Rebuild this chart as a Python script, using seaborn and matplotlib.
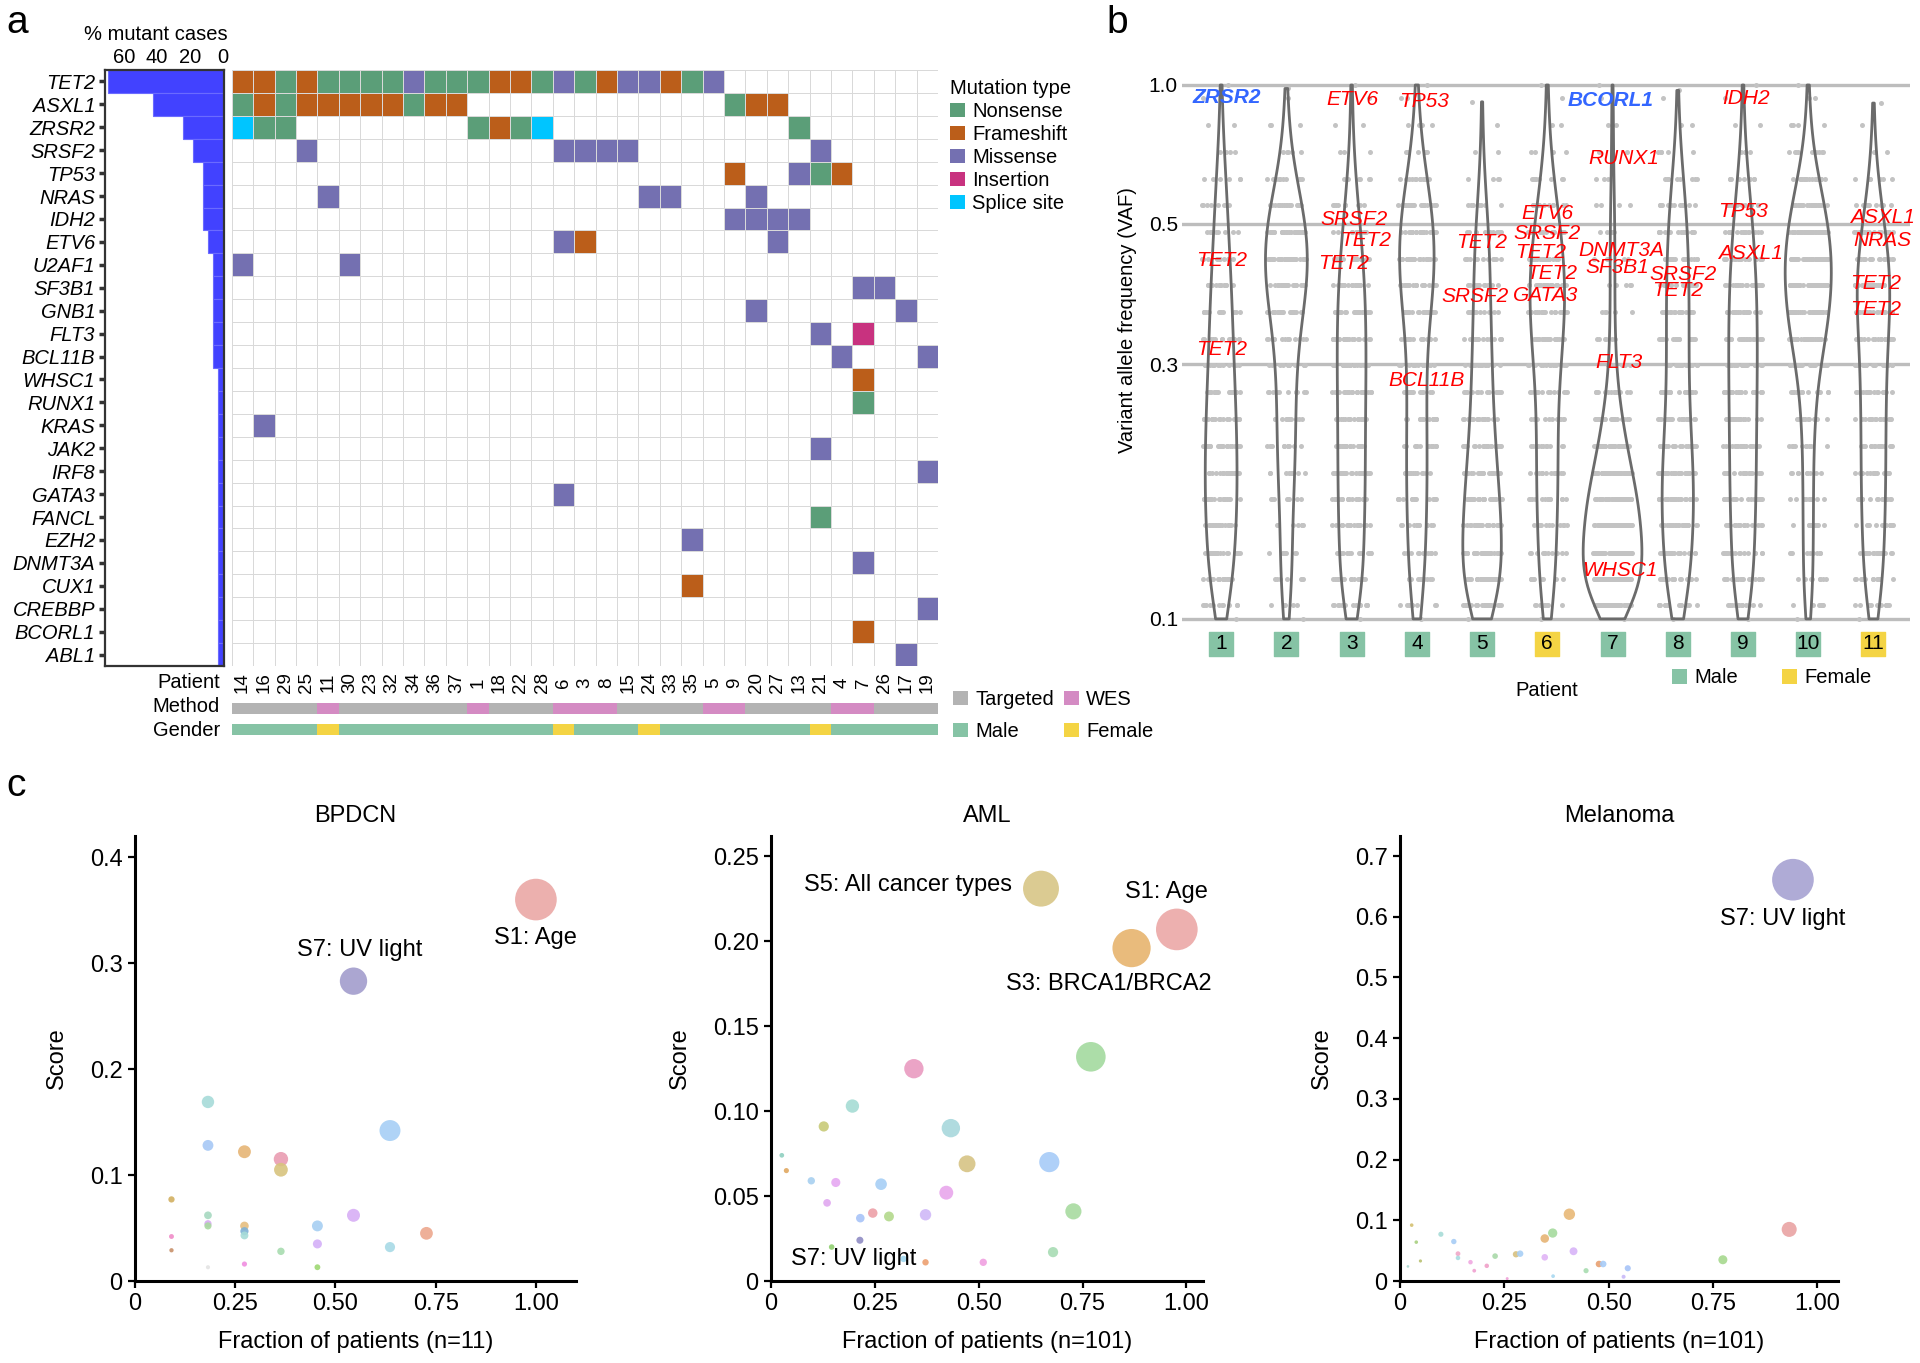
import numpy as np
import pandas as pd
import matplotlib
matplotlib.use('Agg')
import matplotlib.pyplot as plt
import matplotlib.ticker as mticker
import matplotlib.transforms as mtrans
from matplotlib.colors import ListedColormap
from matplotlib.patches import Patch
import seaborn as sb

plt.rcParams['font.family'] = ['Liberation Sans', 'DejaVu Sans']

W, H = 1920, 1363

# ---------------- panel a: oncoprint ----------------
genes = ['TET2', 'ASXL1', 'ZRSR2', 'SRSF2', 'TP53', 'NRAS', 'IDH2', 'ETV6', 'U2AF1', 'SF3B1',
         'GNB1', 'FLT3', 'BCL11B', 'WHSC1', 'RUNX1', 'KRAS', 'JAK2', 'IRF8', 'GATA3', 'FANCL',
         'EZH2', 'DNMT3A', 'CUX1', 'CREBBP', 'BCORL1', 'ABL1']
patients = ['14', '16', '29', '25', '11', '30', '23', '32', '34', '36', '37', '1', '18', '22',
            '28', '6', '3', '8', '15', '24', '33', '35', '5', '9', '20', '27', '13', '21', '4',
            '7', '26', '17', '19']
# one character per patient: N nonsense, F frameshift, M missense, I insertion, S splice site
mutations = [
    'FFNFNNNNMN' 'NNFFNMNFMM' 'FNM.......' '...',  # TET2
    'NFNFFFFFNF' 'F.........' '...NFF....' '...',  # ASXL1
    'SNN.......' '.NFNS.....' '......N...' '...',  # ZRSR2
    '...M......' '.....MMMM.' '.......M..' '...',  # SRSF2
    '..........' '..........' '...F..MNF.' '...',  # TP53
    '....M.....' '.........M' 'M...M.....' '...',  # NRAS
    '..........' '..........' '...MMMM...' '...',  # IDH2
    '..........' '.....MF...' '.....M....' '...',  # ETV6
    'M....M....' '..........' '..........' '...',  # U2AF1
    '..........' '..........' '.........M' 'M..',  # SF3B1
    '..........' '..........' '....M.....' '.M.',  # GNB1
    '..........' '..........' '.......M.I' '...',  # FLT3
    '..........' '..........' '........M.' '..M',  # BCL11B
    '..........' '..........' '.........F' '...',  # WHSC1
    '..........' '..........' '.........N' '...',  # RUNX1
    '.M........' '..........' '..........' '...',  # KRAS
    '..........' '..........' '.......M..' '...',  # JAK2
    '..........' '..........' '..........' '..M',  # IRF8
    '..........' '.....M....' '..........' '...',  # GATA3
    '..........' '..........' '.......N..' '...',  # FANCL
    '..........' '..........' '.M........' '...',  # EZH2
    '..........' '..........' '.........M' '...',  # DNMT3A
    '..........' '..........' '.F........' '...',  # CUX1
    '..........' '..........' '..........' '..M',  # CREBBP
    '..........' '..........' '.........F' '...',  # BCORL1
    '..........' '..........' '..........' '.M.',  # ABL1
]
method = 'TTTTWTTTTT' 'TWTTTWWWTT' 'TTWWTTTTWW' 'TTT'   # T targeted, W WES
gender = 'MMMMFMMMMM' 'MMMMMFMMMF' 'MMMMMMMFMM' 'MMM'

mut_types = ['Nonsense', 'Frameshift', 'Missense', 'Insertion', 'Splice site']
mut_colors = ['#5b9e78', '#bb5e1a', '#7470b1', '#c8327f', '#00c5ff']

# ---------------- panel b: VAF per patient ----------------
b_patients = ['1', '2', '3', '4', '5', '6', '7', '8', '9', '10', '11']
b_sex = ['M', 'M', 'M', 'M', 'M', 'F', 'M', 'M', 'M', 'M', 'F']
vaf_bins = [0.106, 0.119, 0.133, 0.150, 0.168, 0.188, 0.211, 0.237, 0.266, 0.299,
            0.335, 0.376, 0.422, 0.473, 0.531, 0.596, 0.668, 0.750, 0.841, 0.944]
# number of variants per VAF bin, one row per patient
dot_counts = [
    [11, 15, 18, 19, 20, 20, 20, 19, 18, 16, 15, 14, 13, 11, 9, 8, 6, 4, 2, 1],
    [5, 7, 7, 7, 8, 10, 11, 11, 11, 12, 14, 20, 25, 28, 26, 19, 11, 5, 3, 1],
    [14, 17, 18, 19, 19, 20, 20, 20, 21, 21, 21, 21, 19, 17, 13, 10, 6, 3, 2, 1],
    [8, 11, 12, 13, 14, 14, 14, 14, 13, 13, 14, 19, 24, 27, 25, 21, 14, 7, 4, 2],
    [25, 30, 31, 29, 26, 23, 20, 18, 16, 15, 14, 13, 12, 12, 10, 7, 4, 2, 1, 0],
    [8, 10, 11, 12, 13, 13, 13, 13, 14, 16, 20, 22, 23, 21, 17, 12, 8, 4, 2, 1],
    [47, 63, 67, 62, 53, 42, 31, 21, 13, 8, 6, 5, 5, 5, 5, 4, 3, 2, 2, 1],
    [15, 20, 23, 25, 26, 25, 22, 20, 18, 17, 18, 18, 18, 17, 16, 13, 9, 5, 2, 1],
    [12, 16, 17, 18, 19, 19, 20, 20, 21, 21, 21, 21, 20, 18, 15, 12, 8, 4, 2, 1],
    [7, 8, 9, 9, 9, 9, 10, 12, 15, 21, 31, 38, 42, 43, 38, 29, 18, 9, 4, 2],
    [10, 13, 15, 16, 16, 17, 17, 17, 18, 18, 20, 23, 25, 22, 17, 11, 6, 3, 1, 0],
]
vaf_min = [0.1, 0.1, 0.1, 0.1, 0.1, 0.1, 0.1, 0.1, 0.1, 0.1, 0.1]
vaf_max = [1.0, 0.985, 1.0, 1.0, 0.93, 1.0, 1.0, 0.977, 1.0, 1.0, 0.925]

label_genes = ['ZRSR2', 'TET2', 'TET2', 'ETV6', 'TP53', 'SRSF2', 'TET2', 'TET2', 'BCL11B',
               'TET2', 'SRSF2', 'ETV6', 'SRSF2', 'TET2', 'TET2', 'GATA3', 'BCORL1', 'RUNX1',
               'DNMT3A', 'SF3B1', 'FLT3', 'WHSC1', 'SRSF2', 'TET2', 'IDH2', 'TP53', 'ASXL1',
               'ASXL1', 'NRAS', 'TET2', 'TET2']
label_patient = [1.09, 1.01, 1.01, 3.01, 4.11, 3.04, 3.22, 2.88, 4.15,
                 5.0, 4.89, 6.0, 6.0, 5.9, 6.07, 5.97, 6.97, 7.17,
                 7.13, 7.07, 7.1, 7.12, 8.08, 8.0, 9.05, 9.0, 9.11,
                 11.14, 11.14, 11.04, 11.04]
label_vaf = [0.948, 0.469, 0.320, 0.940, 0.933, 0.561, 0.512, 0.464, 0.280,
             0.506, 0.402, 0.575, 0.526, 0.485, 0.443, 0.404, 0.937, 0.729,
             0.489, 0.455, 0.302, 0.123, 0.442, 0.412, 0.944, 0.579, 0.483,
             0.564, 0.512, 0.424, 0.379]
blue_genes = ['ZRSR2', 'BCORL1']

# ---------------- panel c: signature scores ----------------
bpdcn_frac = [1.000, 0.545, 0.182, 0.636, 0.182, 0.273, 0.364, 0.364, 0.091, 0.182,
              0.182, 0.182, 0.545, 0.455, 0.273, 0.273, 0.273, 0.727, 0.455, 0.636,
              0.091, 0.091, 0.364, 0.273, 0.455, 0.182]
bpdcn_score = [0.360, 0.283, 0.169, 0.142, 0.128, 0.122, 0.115, 0.105, 0.077, 0.062,
               0.054, 0.052, 0.062, 0.052, 0.052, 0.047, 0.043, 0.045, 0.035, 0.032,
               0.042, 0.029, 0.028, 0.016, 0.013, 0.013]
bpdcn_colors = ['#eaa8a5', '#a29dcc', '#a6dbd9', '#a6cff5', '#a6c8f5', '#e6b576', '#e99cb2',
                '#d8c47e', '#d2b060', '#a6d9c0', '#d7aaf2', '#a9d9a0', '#d7aef5', '#a6cff2',
                '#e6be7e', '#7fb2d6', '#a6dcd8', '#eda88e', '#d4b0f8', '#a8dae6', '#f08cc8',
                '#c8906a', '#a8dcb0', '#f08ee0', '#9ed872', '#e4e4e4']
bpdcn_notes = [('S7: UV light', 0.561, 0.312), ('S1: Age', 0.998, 0.324)]

aml_frac = [0.650, 0.977, 0.868, 0.770, 0.344, 0.196, 0.127, 0.433, 0.670, 0.472,
            0.026, 0.037, 0.097, 0.156, 0.265, 0.422, 0.135, 0.245, 0.215, 0.284,
            0.372, 0.728, 0.214, 0.679, 0.146, 0.372, 0.511, 0.319]
aml_score = [0.231, 0.207, 0.196, 0.132, 0.125, 0.103, 0.091, 0.090, 0.070, 0.069,
             0.074, 0.065, 0.059, 0.058, 0.057, 0.052, 0.046, 0.040, 0.037, 0.038,
             0.039, 0.041, 0.024, 0.017, 0.020, 0.011, 0.011, 0.013]
aml_colors = ['#d8c686', '#eba8a6', '#e7b46e', '#a3da9f', '#e99ac0', '#a5dcd4', '#c8ca78',
              '#a8d8dc', '#a6cbf8', '#d6c384', '#8fd0c0', '#e0a860', '#a8d0f0', '#e6a8f2',
              '#a6cff5', '#e8a6ec', '#e0a8f0', '#eda0a8', '#a8c4f8', '#b3d98c', '#d0b8f8',
              '#a8dba0', '#8f8cc4', '#a8dcb4', '#90d070', '#eda070', '#f0a0e0', '#a0d8f0']
aml_notes = [('S5: All cancer types', 0.330, 0.233), ('S1: Age', 0.951, 0.229),
             ('S3: BRCA1/BRCA2', 0.813, 0.175), ('S7: UV light', 0.198, 0.013)]

mel_frac = [0.942, 0.933, 0.406, 0.366, 0.347, 0.774, 0.416, 0.347, 0.278, 0.288,
            0.228, 0.098, 0.129, 0.139, 0.139, 0.169, 0.208, 0.178, 0.477, 0.487,
            0.546, 0.446, 0.028, 0.039, 0.049, 0.367, 0.536, 0.257, 0.019]
mel_score = [0.661, 0.085, 0.110, 0.079, 0.070, 0.035, 0.049, 0.039, 0.044, 0.045,
             0.041, 0.077, 0.065, 0.045, 0.038, 0.031, 0.025, 0.017, 0.028, 0.028,
             0.021, 0.017, 0.092, 0.064, 0.033, 0.008, 0.007, 0.004, 0.024]
mel_colors = ['#a6a2d2', '#e9a3a3', '#e8b877', '#a5db9e', '#e6b474', '#a6d98e', '#d8b4f8',
              '#e0b4f6', '#d6c080', '#a8cff5', '#a9d9a9', '#a8dcd8', '#a6ccf5', '#f0a8c8',
              '#a8dce0', '#f0a8e0', '#f0a0c8', '#f0a0d0', '#e8a070', '#a6cbf8', '#a6c4f8',
              '#a8dcb0', '#d4c070', '#a8d080', '#b8c070', '#a8d8f0', '#c8b8f8', '#f0a0d8',
              '#a8d8d0']
mel_notes = [('S7: UV light', 0.918, 0.596)]


fig = plt.figure(figsize=(W / 100, H / 100), dpi=100)


def box(x0, y0, x1, y1):
    # pixel box (top-left origin) -> figure fraction rect
    return [x0 / W, 1 - y1 / H, (x1 - x0) / W, (y1 - y0) / H]


FS = 14.5

# ---- a: % mutant cases bars
pct = [100 * sum(c != '.' for c in row) / len(patients) for row in mutations]
ax_bar = fig.add_axes(box(105, 70, 224, 666))
sb.barplot(x=pct, y=genes, orient='h', color='#4242ff', saturation=1, width=1,
           edgecolor='#6b6bff', linewidth=0.8, ax=ax_bar)
ax_bar.set_xlim(71.5, -0.8)
ax_bar.xaxis.tick_top()
ax_bar.set_xticks([60, 40, 20, 0])
ax_bar.set_xticklabels(['60', '40', '20', '0'])
ax_bar.set_xlabel('')
ax_bar.set_ylabel('')
ax_bar.tick_params(axis='x', length=0, pad=2, labelsize=FS)
ax_bar.tick_params(axis='y', length=4, width=2.5, color='#333333', pad=3, labelsize=FS)
for lbl in ax_bar.get_yticklabels():
    lbl.set_style('italic')
for s in ax_bar.spines.values():
    s.set_color('#333333')
    s.set_linewidth(1.6)
fig.text(156 / W, 1 - 34 / H, '% mutant cases', ha='center', va='center', fontsize=FS)

# ---- a: mutation grid
codes = {'.': 0, 'N': 1, 'F': 2, 'M': 3, 'I': 4, 'S': 5}
grid = pd.DataFrame([[codes[c] for c in row] for row in mutations], index=genes, columns=patients)
ax_on = fig.add_axes(box(231.7, 70, 938, 666))
sb.heatmap(grid, ax=ax_on, cmap=ListedColormap(['white'] + mut_colors), vmin=-0.5, vmax=5.5,
           cbar=False, linewidths=0.6, linecolor='#d9d9d9', xticklabels=True, yticklabels=False)
ax_on.set_xlabel('')
ax_on.set_ylabel('')
ax_on.tick_params(axis='x', length=0, pad=12, labelsize=13.5)
for lbl in ax_on.get_xticklabels():
    lbl.set_rotation(90)
    lbl.set_va('center')

# ---- a: method / gender strips
ax_me = fig.add_axes(box(231.7, 703, 938, 714))
sb.heatmap(pd.DataFrame([[0 if c == 'T' else 1 for c in method]], columns=patients), ax=ax_me,
           cmap=ListedColormap(['#b3b3b3', '#d48bc3']), vmin=-0.5, vmax=1.5, cbar=False,
           xticklabels=False, yticklabels=False)
ax_ge = fig.add_axes(box(231.7, 724, 938, 735))
sb.heatmap(pd.DataFrame([[0 if c == 'M' else 1 for c in gender]], columns=patients), ax=ax_ge,
           cmap=ListedColormap(['#86c3a5', '#f4d444']), vmin=-0.5, vmax=1.5, cbar=False,
           xticklabels=False, yticklabels=False)
for txt, y in [('Patient', 682), ('Method', 707), ('Gender', 731)]:
    fig.text(220 / W, 1 - y / H, txt, ha='right', va='center', fontsize=FS)

fig.legend([Patch(facecolor=c, edgecolor='none') for c in mut_colors], mut_types,
           title='Mutation type', loc='upper left', bbox_to_anchor=(950 / W, 1 - 79 / H),
           frameon=False, fontsize=FS, title_fontsize=FS, alignment='left',
           handlelength=0.75, handleheight=0.75, handletextpad=0.35, labelspacing=0.2,
           borderpad=0, borderaxespad=0)
fig.legend([Patch(facecolor=c, edgecolor='none') for c in ['#b3b3b3', '#86c3a5', '#d48bc3', '#f4d444']],
           ['Targeted', 'Male', 'WES', 'Female'], ncol=2, loc='upper left',
           bbox_to_anchor=(953 / W, 1 - 690 / H), frameon=False, fontsize=FS,
           handlelength=0.75, handleheight=0.75, handletextpad=0.35, columnspacing=0.5,
           labelspacing=0.65, borderpad=0, borderaxespad=0)

# ---- b: VAF violins
rows = []
for p, counts, lo, hi in zip(b_patients, dot_counts, vaf_min, vaf_max):
    vals = list(np.repeat(vaf_bins, counts)) + [lo, hi]
    rows += [(p, v) for v in vals]
vaf_df = pd.DataFrame(rows, columns=['patient', 'vaf'])

ax_b = fig.add_axes(box(1182, 75, 1910, 625))
np.random.seed(3)
sb.stripplot(data=vaf_df, x='patient', y='vaf', order=b_patients, color='#c3c3c3', size=3.6,
             jitter=0.3, log_scale=True, ax=ax_b, zorder=1)
sb.violinplot(data=vaf_df, x='patient', y='vaf', order=b_patients, cut=0, inner=None, fill=False,
              color='#6b6b6b', linewidth=2.0, width=0.9, bw_adjust=0.9, log_scale=True, ax=ax_b)
ax_b.set_ylim(0.0974, 1.044)
ax_b.set_xlim(-0.6, 10.56)
# the source's "0.5" gridline sits at 0.55 on its log axis
ax_b.yaxis.set_major_locator(mticker.FixedLocator([0.1, 0.3, 0.55, 1.0]))
ax_b.yaxis.set_major_formatter(mticker.FixedFormatter(['0.1', '0.3', '0.5', '1.0']))
ax_b.yaxis.set_minor_locator(mticker.NullLocator())
ax_b.grid(axis='y', color='#bdbdbd', lw=2.4)
ax_b.set_axisbelow(True)
for s in ax_b.spines.values():
    s.set_visible(False)
ax_b.tick_params(axis='both', which='both', length=0)
ax_b.tick_params(axis='y', labelsize=15, pad=3)
ax_b.tick_params(axis='x', labelbottom=False)
ax_b.set_xlabel('')
ax_b.set_ylabel('Variant allele frequency (VAF)', fontsize=FS)
ax_b.yaxis.set_label_coords(-0.062, 0.555)

sex_colors = {'M': '#86c3a5', 'F': '#f4d444'}
tb = mtrans.blended_transform_factory(ax_b.transData, ax_b.transAxes)
ax_b.scatter(range(len(b_patients)), [-0.0345] * len(b_patients), marker='s', s=300,
             c=[sex_colors[s] for s in b_sex], transform=tb, clip_on=False, zorder=3)
for i, p in enumerate(b_patients):
    ax_b.text(i, -0.0345, p, transform=tb, ha='center', va='center', fontsize=15, zorder=4)

for g, p, v in zip(label_genes, label_patient, label_vaf):
    blue = g in blue_genes
    ax_b.text(p - 1, v, g, color='#3366ff' if blue else '#ff0000', fontsize=15, style='italic',
              weight='bold' if blue else 'normal', ha='center', va='center', zorder=5)

fig.text(1547 / W, 1 - 690 / H, 'Patient', ha='center', va='center', fontsize=FS)
fig.legend([Patch(facecolor=c, edgecolor='none') for c in ['#86c3a5', '#f4d444']], ['Male', 'Female'],
           ncol=2, loc='center left', bbox_to_anchor=(1672 / W, 1 - 678 / H), frameon=False,
           fontsize=FS, handlelength=0.75, handleheight=0.75, handletextpad=0.35,
           columnspacing=2.2, borderpad=0, borderaxespad=0)


# ---- c: signature bubble charts
def plot_signatures(ax, frac, score, colors, notes, title, n, ylim, yticks, ylabels, xmax):
    frac = np.asarray(frac)
    score = np.asarray(score)
    weight = frac * score
    sb.scatterplot(x=frac, y=score, hue=colors, palette={c: c for c in colors}, size=weight,
                   sizes=(3, 900), size_norm=(0, weight.max()), legend=False, alpha=0.9,
                   edgecolor='none', ax=ax, clip_on=False)
    for txt, x, y in notes:
        ax.text(x, y, txt, ha='center', va='center', fontsize=17)
    ax.set_xlim(0, xmax)
    ax.set_ylim(0, ylim)
    ax.set_xticks([0, 0.25, 0.5, 0.75, 1.0])
    ax.set_xticklabels(['0', '0.25', '0.50', '0.75', '1.00'])
    ax.set_yticks(yticks)
    ax.set_yticklabels(ylabels)
    ax.tick_params(direction='out', length=5, width=1.6, labelsize=17, pad=4)
    for side in ['top', 'right']:
        ax.spines[side].set_visible(False)
    for side in ['left', 'bottom']:
        ax.spines[side].set_linewidth(2.2)
        ax.spines[side].set_color('black')
    ax.set_title(title, fontsize=17, pad=10)
    ax.set_xlabel(f'Fraction of patients (n={n})', fontsize=17, labelpad=11)
    ax.set_ylabel('Score', fontsize=17, labelpad=16)


ax_c1 = fig.add_axes(box(135, 836, 576, 1281))
plot_signatures(ax_c1, bpdcn_frac, bpdcn_score, bpdcn_colors, bpdcn_notes, 'BPDCN', 11, 0.42,
                [0, 0.1, 0.2, 0.3, 0.4], ['0', '0.1', '0.2', '0.3', '0.4'], 1.10)
ax_c2 = fig.add_axes(box(771, 836, 1203, 1281))
plot_signatures(ax_c2, aml_frac, aml_score, aml_colors, aml_notes, 'AML', 101, 0.262,
                [0, 0.05, 0.10, 0.15, 0.20, 0.25], ['0', '0.05', '0.10', '0.15', '0.20', '0.25'], 1.04)
ax_c3 = fig.add_axes(box(1400, 836, 1838, 1281))
plot_signatures(ax_c3, mel_frac, mel_score, mel_colors, mel_notes, 'Melanoma', 101, 0.733,
                [0, 0.1, 0.2, 0.3, 0.4, 0.5, 0.6, 0.7],
                ['0', '0.1', '0.2', '0.3', '0.4', '0.5', '0.6', '0.7'], 1.05)

for letter, x, y in [('a', 6, 33), ('b', 1106, 33), ('c', 6, 796)]:
    fig.text(x / W, 1 - y / H, letter, fontsize=28, va='baseline', ha='left')

fig.savefig('out.png', dpi=100)
